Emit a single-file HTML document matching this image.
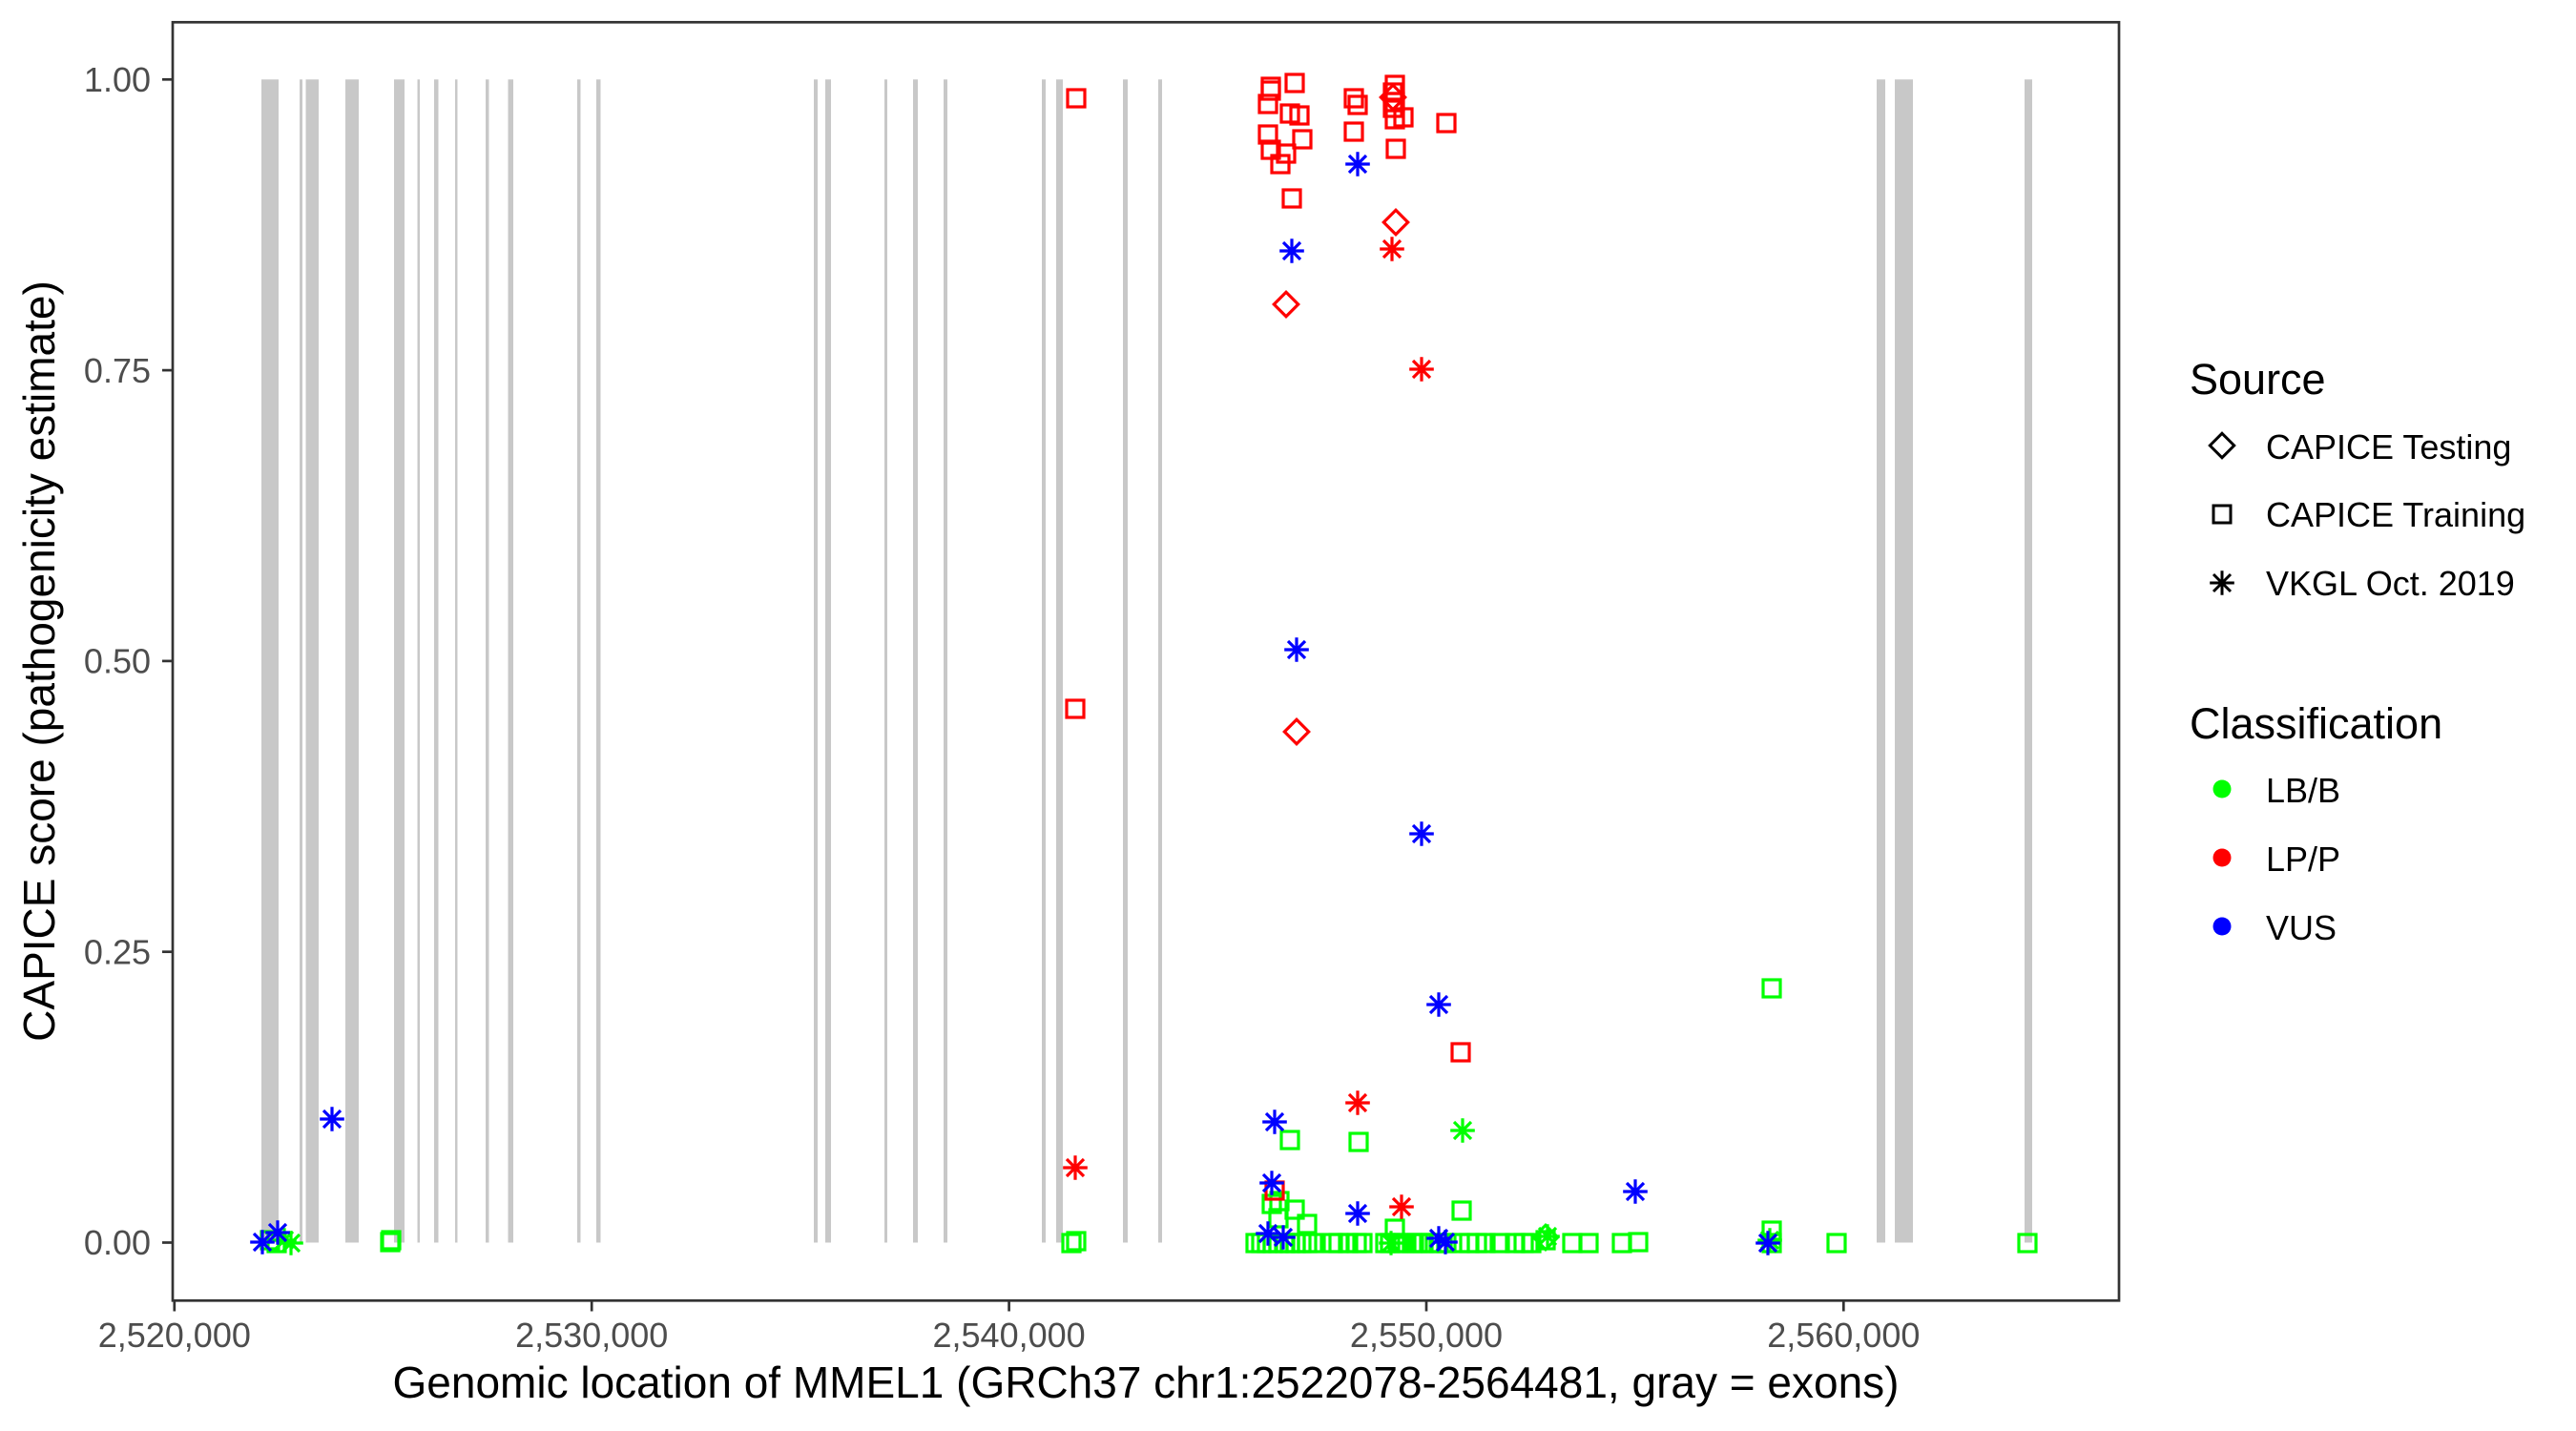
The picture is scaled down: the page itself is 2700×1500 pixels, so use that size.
<!DOCTYPE html>
<html><head><meta charset="utf-8"><style>
html,body{margin:0;padding:0;background:#fff;}
svg{display:block;}
text{font-family:"Liberation Sans",Arial,sans-serif;}
</style></head><body>
<svg width="2700" height="1500" viewBox="0 0 2700 1500" xmlns="http://www.w3.org/2000/svg">
<defs>
<rect id="sq" x="-9" y="-9" width="18" height="18" fill="none"/>
<polygon id="di" points="0,-12.7 12.7,0 0,12.7 -12.7,0" fill="none"/>
<path id="st" d="M0,-12.8V12.8M-12.8,0H12.8M-9,-9L9,9M-9,9L9,-9" fill="none"/>
</defs>
<rect width="2700" height="1500" fill="#fff"/>
<!-- exons -->
<g fill="#c8c8c8">
<rect x="274" y="83.3" width="18" height="1219.2"/>
<rect x="314" y="83.3" width="3" height="1219.2"/>
<rect x="320.5" y="83.3" width="13.5" height="1219.2"/>
<rect x="362" y="83.3" width="14" height="1219.2"/>
<rect x="413" y="83.3" width="11" height="1219.2"/>
<rect x="437.5" y="83.3" width="2.5" height="1219.2"/>
<rect x="455" y="83.3" width="4.5" height="1219.2"/>
<rect x="477" y="83.3" width="2.5" height="1219.2"/>
<rect x="509" y="83.3" width="3.5" height="1219.2"/>
<rect x="532.5" y="83.3" width="5.5" height="1219.2"/>
<rect x="605" y="83.3" width="3.5" height="1219.2"/>
<rect x="625" y="83.3" width="4.5" height="1219.2"/>
<rect x="853" y="83.3" width="4" height="1219.2"/>
<rect x="865" y="83.3" width="6" height="1219.2"/>
<rect x="927" y="83.3" width="3" height="1219.2"/>
<rect x="957" y="83.3" width="5" height="1219.2"/>
<rect x="989" y="83.3" width="4" height="1219.2"/>
<rect x="1092" y="83.3" width="4" height="1219.2"/>
<rect x="1107" y="83.3" width="7" height="1219.2"/>
<rect x="1177" y="83.3" width="5" height="1219.2"/>
<rect x="1214" y="83.3" width="4" height="1219.2"/>
<rect x="1967" y="83.3" width="9" height="1219.2"/>
<rect x="1986" y="83.3" width="19" height="1219.2"/>
<rect x="2122" y="83.3" width="8" height="1219.2"/>
</g>
<!-- green -->
<g stroke="#00ff00" stroke-width="3.2" fill="none">
<use href="#sq" x="283" y="1300"/><use href="#sq" x="290" y="1303"/><use href="#sq" x="409" y="1302"/><use href="#sq" x="410" y="1300"/>
<use href="#sq" x="1123" y="1303"/><use href="#sq" x="1128" y="1301"/>
<use href="#sq" x="1316" y="1303"/><use href="#sq" x="1322" y="1303"/><use href="#sq" x="1328" y="1303"/><use href="#sq" x="1334" y="1303"/><use href="#sq" x="1340" y="1303"/><use href="#sq" x="1347" y="1303"/><use href="#sq" x="1352" y="1303"/><use href="#sq" x="1358" y="1303"/><use href="#sq" x="1364" y="1303"/><use href="#sq" x="1370" y="1303"/><use href="#sq" x="1376" y="1303"/>
<use href="#sq" x="1397" y="1303"/><use href="#sq" x="1403" y="1303"/><use href="#sq" x="1413" y="1303"/><use href="#sq" x="1422" y="1303"/><use href="#sq" x="1428" y="1303"/>
<use href="#sq" x="1452" y="1303"/><use href="#sq" x="1457" y="1303"/><use href="#sq" x="1465" y="1303"/><use href="#sq" x="1471" y="1303"/><use href="#sq" x="1480" y="1303"/><use href="#sq" x="1486" y="1303"/><use href="#sq" x="1492" y="1303"/><use href="#sq" x="1500" y="1303"/><use href="#sq" x="1508" y="1303"/><use href="#sq" x="1516" y="1303"/>
<use href="#sq" x="1530" y="1303"/><use href="#sq" x="1540" y="1303"/><use href="#sq" x="1548" y="1303"/><use href="#sq" x="1557" y="1303"/><use href="#sq" x="1572" y="1303"/><use href="#sq" x="1588" y="1303"/><use href="#sq" x="1597" y="1303"/><use href="#sq" x="1605" y="1303"/>
<use href="#sq" x="1620" y="1300"/><use href="#sq" x="1648" y="1303"/><use href="#sq" x="1665" y="1303"/><use href="#sq" x="1700" y="1303"/><use href="#sq" x="1717" y="1302"/>
<use href="#sq" x="1857" y="1303"/><use href="#sq" x="1857" y="1290"/><use href="#sq" x="1857" y="1036"/><use href="#sq" x="1925" y="1303"/><use href="#sq" x="2125" y="1303"/>
<use href="#sq" x="1333" y="1262"/><use href="#sq" x="1341" y="1259"/><use href="#sq" x="1357" y="1268"/><use href="#sq" x="1370" y="1283"/><use href="#sq" x="1340" y="1277"/><use href="#sq" x="1462" y="1288"/><use href="#sq" x="1532" y="1269"/>
<use href="#sq" x="1352" y="1195"/><use href="#sq" x="1424" y="1197"/>
<use href="#st" x="305" y="1303"/><use href="#st" x="298" y="1300"/><use href="#st" x="1533" y="1185"/><use href="#st" x="1622" y="1296"/><use href="#st" x="1855" y="1300"/><use href="#st" x="1458" y="1303"/>
<use href="#di" x="1620" y="1297"/>
</g>
<!-- red -->
<g stroke="#ff0000" stroke-width="3.2" fill="none">
<use href="#sq" x="1332" y="91"/><use href="#sq" x="1332" y="95"/><use href="#sq" x="1357" y="87"/><use href="#sq" x="1329" y="109"/><use href="#sq" x="1352" y="119"/><use href="#sq" x="1362" y="121"/><use href="#sq" x="1329" y="141"/><use href="#sq" x="1365" y="146"/><use href="#sq" x="1332" y="157"/><use href="#sq" x="1348" y="161"/><use href="#sq" x="1342" y="172"/><use href="#sq" x="1354" y="208"/>
<use href="#sq" x="1419" y="103"/><use href="#sq" x="1423" y="110"/><use href="#sq" x="1419" y="138"/>
<use href="#sq" x="1462" y="89"/><use href="#sq" x="1460" y="97"/><use href="#sq" x="1462" y="107"/><use href="#sq" x="1460" y="113"/><use href="#sq" x="1462" y="125"/><use href="#sq" x="1471" y="123"/><use href="#sq" x="1463" y="156"/><use href="#sq" x="1516" y="129"/>
<use href="#sq" x="1128" y="103"/><use href="#sq" x="1127" y="743"/><use href="#sq" x="1531" y="1103"/><use href="#sq" x="1336" y="1248"/>
<use href="#di" x="1460" y="102"/><use href="#di" x="1463" y="233"/><use href="#di" x="1348" y="319"/><use href="#di" x="1359" y="767"/>
<use href="#st" x="1459" y="261"/><use href="#st" x="1490" y="387"/><use href="#st" x="1423" y="1156"/><use href="#st" x="1127" y="1224"/><use href="#st" x="1469" y="1265"/>
</g>
<!-- blue -->
<g stroke="#0000ff" stroke-width="3.2" fill="none">
<use href="#st" x="1423" y="172"/><use href="#st" x="1354" y="263"/><use href="#st" x="1359" y="681"/><use href="#st" x="1490" y="874"/><use href="#st" x="1508" y="1053"/><use href="#st" x="1336" y="1176"/><use href="#st" x="1333" y="1240"/><use href="#st" x="1423" y="1272"/><use href="#st" x="1714" y="1249"/><use href="#st" x="348" y="1173"/><use href="#st" x="275" y="1302"/><use href="#st" x="291" y="1292"/><use href="#st" x="1329" y="1293"/><use href="#st" x="1345" y="1297"/><use href="#st" x="1508" y="1298"/><use href="#st" x="1515" y="1302"/><use href="#st" x="1853" y="1303"/>
</g>
<!-- panel -->
<rect x="181" y="23.3" width="2040" height="1340" fill="none" stroke="#333333" stroke-width="2.7"/>
<g stroke="#333333" stroke-width="2.7">
<line x1="170" y1="83.3" x2="181" y2="83.3"/><line x1="170" y1="388.1" x2="181" y2="388.1"/><line x1="170" y1="692.9" x2="181" y2="692.9"/><line x1="170" y1="997.7" x2="181" y2="997.7"/><line x1="170" y1="1302.5" x2="181" y2="1302.5"/>
<line x1="182.8" y1="1363.3" x2="182.8" y2="1374.5"/><line x1="620.2" y1="1363.3" x2="620.2" y2="1374.5"/><line x1="1057.6" y1="1363.3" x2="1057.6" y2="1374.5"/><line x1="1495" y1="1363.3" x2="1495" y2="1374.5"/><line x1="1932.3" y1="1363.3" x2="1932.3" y2="1374.5"/>
</g>
<g fill="#4d4d4d" font-size="36" text-anchor="end">
<text x="158" y="96">1.00</text><text x="158" y="400.8">0.75</text><text x="158" y="705.6">0.50</text><text x="158" y="1010.4">0.25</text><text x="158" y="1315.2">0.00</text>
</g>
<g fill="#4d4d4d" font-size="36" text-anchor="middle">
<text x="182.8" y="1412">2,520,000</text><text x="620.2" y="1412">2,530,000</text><text x="1057.6" y="1412">2,540,000</text><text x="1495" y="1412">2,550,000</text><text x="1932.3" y="1412">2,560,000</text>
</g>
<text x="1201" y="1465" font-size="46" text-anchor="middle" fill="#000">Genomic location of MMEL1 (GRCh37 chr1:2522078-2564481, gray = exons)</text>
<text transform="translate(57,693) rotate(-90)" font-size="46" text-anchor="middle" fill="#000">CAPICE score (pathogenicity estimate)</text>
<!-- legend -->
<text x="2295" y="413" font-size="45" fill="#000">Source</text>
<g stroke="#000" stroke-width="3" fill="none">
<use href="#di" x="2329" y="467"/><use href="#sq" x="2329" y="539"/><use href="#st" x="2329" y="611"/>
</g>
<g font-size="36" fill="#000">
<text x="2375" y="481">CAPICE Testing</text><text x="2375" y="552">CAPICE Training</text><text x="2375" y="624">VKGL Oct. 2019</text>
</g>
<text x="2295" y="774" font-size="45" fill="#000">Classification</text>
<circle cx="2329" cy="827" r="9.5" fill="#00ff00"/><circle cx="2329" cy="899" r="9.5" fill="#ff0000"/><circle cx="2329" cy="971" r="9.5" fill="#0000ff"/>
<g font-size="36" fill="#000">
<text x="2375" y="841">LB/B</text><text x="2375" y="913">LP/P</text><text x="2375" y="985">VUS</text>
</g>
</svg>
</body></html>
